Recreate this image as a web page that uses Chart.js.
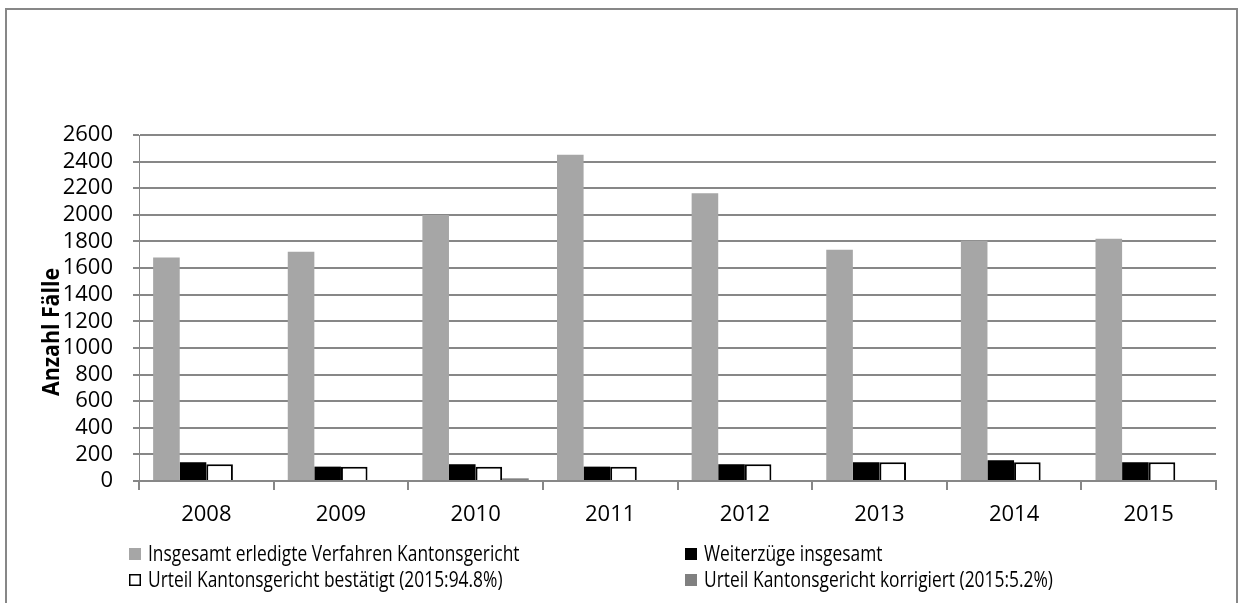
<!DOCTYPE html>
<html lang="de">
<head>
<meta charset="utf-8">
<title>Kantonsgericht – Anzahl Fälle 2008–2015</title>
<script src="https://cdn.jsdelivr.net/npm/chart.js@4.4.1/dist/chart.umd.min.js"></script>
<style>
  html, body { margin: 0; padding: 0; background: #fff; }
  #wrap { position: relative; width: 1241px; height: 603px; overflow: hidden; }
</style>
</head>
<body>
<div id="wrap"><canvas id="chart" width="1241" height="603"></canvas></div>
<script>
// values
const years = ['2008', '2009', '2010', '2011', '2012', '2013', '2014', '2015'];
const erledigt = [1680, 1722, 1998, 2452, 2163, 1737, 1805, 1820];
const weiterzuege = [141, 108, 126, 108, 126, 141, 156, 141];
const bestaetigt = [126, 108, 108, 108, 126, 141, 141, 141];
const korrigiert = [0, 0, 20, 0, 0, 0, 0, 0];
const yTicks = [0, 200, 400, 600, 800, 1000, 1200, 1400, 1600, 1800, 2000, 2200, 2400, 2600];

const FONT = "'Open Sans', 'DejaVu Sans', sans-serif";
const GRID = '#878787';

// outer frame (Excel chart border)
const framePlugin = {
  id: 'frame',
  beforeDraw(chart) {
    const ctx = chart.ctx;
    ctx.save();
    ctx.strokeStyle = GRID;
    ctx.lineWidth = 2;
    ctx.strokeRect(6, 9, 1231, 700);
    ctx.restore();
  }
};

// rotated axis title, sits a bit lower than the plot centre in the original
const yTitlePlugin = {
  id: 'yTitle',
  afterDraw(chart) {
    const ctx = chart.ctx;
    const text = 'Anzahl Fälle';
    ctx.save();
    ctx.font = 'bold 24px ' + FONT;
    const w = ctx.measureText(text).width;
    ctx.translate(51, 332);
    ctx.rotate(-Math.PI / 2);
    ctx.scale(128 / w, 1);
    ctx.fillStyle = '#000';
    ctx.textAlign = 'center';
    ctx.textBaseline = 'middle';
    ctx.fillText(text, 0, 1);
    ctx.restore();
  }
};

// two-column legend like the Excel one
const legendPlugin = {
  id: 'gridLegend',
  afterDraw(chart) {
    const ctx = chart.ctx;
    const colX = [129, 685];
    const rowY = [554, 580];
    chart.data.datasets.forEach((ds, i) => {
      const x = colX[i % 2];
      const cy = rowY[Math.floor(i / 2)];
      ctx.save();
      ctx.fillStyle = ds.backgroundColor;
      ctx.fillRect(x, cy - 6, 12, 12);
      if (ds.borderWidth) {
        ctx.strokeStyle = ds.borderColor;
        ctx.lineWidth = 1.5;
        ctx.strokeRect(x + 0.75, cy - 5.25, 10.5, 10.5);
      }
      ctx.translate(x + 19, cy);
      ctx.scale(0.79, 1);
      ctx.font = '22px ' + FONT;
      ctx.fillStyle = '#000';
      ctx.textAlign = 'left';
      ctx.textBaseline = 'middle';
      ctx.fillText(ds.label, 0, 1);
      ctx.restore();
    });
  }
};

const chart = new Chart(document.getElementById('chart'), {
  type: 'bar',
  data: {
    labels: years,
    datasets: [
      { label: 'Insgesamt erledigte Verfahren Kantonsgericht', data: erledigt, backgroundColor: '#a6a6a6' },
      { label: 'Weiterzüge insgesamt', data: weiterzuege, backgroundColor: '#000000' },
      { label: 'Urteil Kantonsgericht bestätigt (2015:94.8%)', data: bestaetigt, backgroundColor: '#ffffff', borderColor: '#000000', borderWidth: 2 },
      { label: 'Urteil Kantonsgericht korrigiert (2015:5.2%)', data: korrigiert, backgroundColor: '#808080' }
    ]
  },
  options: {
    responsive: false,
    animation: false,
    devicePixelRatio: 1,
    categoryPercentage: 0.79,
    barPercentage: 1,
    layout: { padding: { top: 135, right: 25, left: 0, bottom: 0 } },
    plugins: { legend: { display: false }, tooltip: { enabled: false } },
    scales: {
      x: {
        grid: { drawOnChartArea: false, color: GRID, lineWidth: 2, tickLength: 9, offset: true },
        border: { color: GRID, width: 2 },
        ticks: { color: '#000', font: { size: 22, family: FONT }, padding: 12, maxRotation: 0, autoSkip: false },
        afterFit(s) { s.height = 122; }
      },
      y: {
        min: 0,
        max: 2600,
        afterBuildTicks(s) { s.ticks = yTicks.map(v => ({ value: v })); },
        grid: { color: GRID, lineWidth: 2, tickLength: 6 },
        border: { color: GRID, width: 1 },
        ticks: { color: '#000', font: { size: 22, family: FONT }, padding: 20, autoSkip: false, callback: v => String(v) },
        afterFit(s) { s.width = 139; }
      }
    }
  },
  plugins: [framePlugin, yTitlePlugin, legendPlugin]
});
</script>
</body>
</html>
